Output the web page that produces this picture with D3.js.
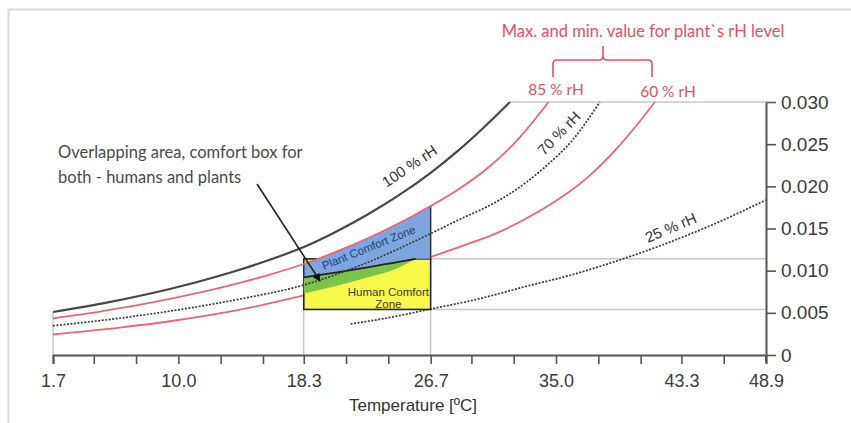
<!DOCTYPE html>
<html>
<head>
<meta charset="utf-8">
<script src="https://cdn.jsdelivr.net/npm/d3@7"></script>
<style>
  html, body { margin: 0; padding: 0; background: #fff; }
  svg { display: block; }
</style>
</head>
<body>
<svg id="chart" width="851" height="423"></svg>
<script>
// ---------------- DATA ----------------
const tempTicks = [1.7, 4.4, 7.2, 10.0, 12.8, 15.6, 18.3, 21.1, 23.9, 26.7, 29.4, 32.2, 35.0, 37.8, 40.6, 43.3, 46.1, 48.9];
const tempLabels = ["1.7", "10.0", "18.3", "26.7", "35.0", "43.3", "48.9"];
const humidityTicks = [0, 0.005, 0.010, 0.015, 0.020, 0.025, 0.030];
const humidityLabels = ["0", "0.005", "0.010", "0.015", "0.020", "0.025", "0.030"];

// rH curves: temperature [°C] and humidity ratio [kg/kg]
const t100 = [1.7, 5, 8, 11, 14, 16, 18.3, 20.5, 22.5, 24.5, 26.7, 28.5, 30.2, 31.95];
const w100 = [0.0051, 0.00612, 0.00723, 0.00854, 0.01008, 0.01126, 0.0128, 0.01468, 0.01663, 0.01883, 0.0216, 0.0242, 0.02695, 0.0300];

const t85 = [1.7, 5, 8, 11, 14, 16, 18.3, 20.5, 22.5, 24.5, 26.7, 28.5, 30.5, 32.5, 34.5];
const w85 = [0.00435, 0.00521, 0.00614, 0.00724, 0.00853, 0.00951, 0.01079, 0.01228, 0.01381, 0.01553, 0.01767, 0.0196, 0.0222, 0.0256, 0.0300];

const t70 = [1.7, 6, 10, 14, 18.3, 22.5, 26.7, 29, 30, 31.75, 34.4, 36.1, 37.9];
const w70 = [0.00347, 0.00434, 0.00536, 0.00661, 0.0083, 0.01096, 0.0144, 0.0164, 0.0172, 0.0189, 0.0225, 0.0255, 0.0300];

const t60 = [1.7, 6, 10, 14, 18.3, 22.5, 26.7, 29, 31, 33, 35, 37, 39, 40.5, 41.55];
const w60 = [0.00245, 0.00322, 0.00415, 0.00535, 0.00706, 0.00906, 0.01162, 0.01306, 0.0144, 0.01616, 0.01828, 0.02092, 0.02444, 0.0276, 0.0300];

const t25 = [21.4, 24, 26.7, 30, 33, 36, 39.4, 42, 45, 48.9];
const w25 = [0.00368, 0.00445, 0.00545, 0.0067, 0.00813, 0.00949, 0.01138, 0.01302, 0.01517, 0.01838];

// comfort zones
const comfortTemps = [18.3, 26.7];
const humanRange = [0.0054, 0.0114];
const plantT = [18.3, 20.5, 22.5, 24.5, 25.7, 26.7];
const plantTop = [0.01079, 0.01228, 0.01381, 0.01553, 0.01666, 0.01767];
const plantBottom = [0.0092, 0.0098, 0.0104, 0.0110, 0.0114, 0.0114];
const overlapT = [18.3, 20.5, 22.5, 24.5, 25.7];
const overlapTop = [0.0092, 0.0098, 0.0104, 0.0110, 0.0114];
const overlapBottom = [0.0073, 0.0082, 0.0092, 0.0103, 0.0114];

// ---------------- CHART ----------------
const svg = d3.select("#chart");
const x = d3.scaleLinear().domain([1.7, 48.9]).range([53, 766]);
const y = d3.scaleLinear().domain([0, 0.030]).range([355, 102]);

const RED = "#ea6573";
const RED_TEXT = "#e4505e";
const GRID = "#c9c9c9";
const AX = "#555";

// frame
svg.append("path").attr("d", "M8.5,423V9.5H851").attr("fill", "none")
  .attr("stroke", "#dadada").attr("stroke-width", 2);

const pts = (ts, ws) => ts.map((t, i) => [t, ws[i]]);
const line = d3.line().x(d => x(d[0])).y(d => y(d[1])).curve(d3.curveMonotoneX);

// guide lines
const g = svg.append("g").attr("stroke", GRID).attr("stroke-width", 1.5);
g.append("line").attr("x1", x(1.7)).attr("x2", x(1.7)).attr("y1", y(0)).attr("y2", y(w100[0]));
comfortTemps.forEach(t => g.append("line").attr("x1", x(t)).attr("x2", x(t)).attr("y1", y(0)).attr("y2", y(humanRange[0])));
humanRange.forEach(w => g.append("line").attr("x1", x(26.7)).attr("x2", x(48.9)).attr("y1", y(w)).attr("y2", y(w)));
g.append("line").attr("x1", x(t100[t100.length - 1])).attr("x2", x(48.9)).attr("y1", y(0.030)).attr("y2", y(0.030));

// curves under fills
svg.append("path").attr("d", line(pts(t60, w60))).attr("fill", "none").attr("stroke", RED).attr("stroke-width", 1.8);
svg.append("path").attr("d", line(pts(t25, w25))).attr("fill", "none").attr("stroke", "#3a3a3a").attr("stroke-width", 1.7).attr("stroke-dasharray", "2,1.5");
svg.append("path").attr("d", line(pts(t100, w100))).attr("fill", "none").attr("stroke", "#474747").attr("stroke-width", 2.2);

// human comfort zone (yellow)
svg.append("rect")
  .attr("x", x(comfortTemps[0])).attr("y", y(humanRange[1]))
  .attr("width", x(comfortTemps[1]) - x(comfortTemps[0]))
  .attr("height", y(humanRange[0]) - y(humanRange[1]))
  .attr("fill", "#f8f84a").attr("stroke", "#222").attr("stroke-width", 1.6);

// overlap (green)
const area = d3.area().x(d => x(d.t)).y0(d => y(d.lo)).y1(d => y(d.hi)).curve(d3.curveMonotoneX);
svg.append("path")
  .attr("d", area(overlapT.map((t, i) => ({ t, lo: overlapBottom[i], hi: overlapTop[i] }))))
  .attr("fill", "#7cc447");

// plant comfort zone (blue)
svg.append("path")
  .attr("d", area(plantT.map((t, i) => ({ t, lo: plantBottom[i], hi: plantTop[i] }))))
  .attr("fill", "#7ea5de");
svg.append("path").attr("d", line(pts(overlapT, overlapTop))).attr("fill", "none").attr("stroke", "#222").attr("stroke-width", 1.8);
svg.append("line").attr("x1", x(18.3)).attr("x2", x(18.3)).attr("y1", y(plantBottom[0])).attr("y2", y(plantTop[0])).attr("stroke", "#333").attr("stroke-width", 1.5);
svg.append("line").attr("x1", x(26.7)).attr("x2", x(26.7)).attr("y1", y(humanRange[1])).attr("y2", y(plantTop[plantTop.length - 1])).attr("stroke", "#333").attr("stroke-width", 1.5);

// curves over fills
svg.append("path").attr("d", line(pts(t85, w85))).attr("fill", "none").attr("stroke", RED).attr("stroke-width", 1.8);
svg.append("path").attr("d", line(pts(t70, w70))).attr("fill", "none").attr("stroke", "#3a3a3a").attr("stroke-width", 1.7).attr("stroke-dasharray", "2,1.5");

// axes
const xAxis = d3.axisBottom(x).tickValues(tempTicks).tickSize(9).tickPadding(10)
  .tickFormat(d => { const s = d.toFixed(1); return tempLabels.includes(s) ? s : ""; });
const gx = svg.append("g").attr("transform", `translate(0,${y(0)})`).call(xAxis);
gx.select(".domain").attr("stroke", AX).attr("stroke-width", 2);
gx.selectAll(".tick line").attr("stroke", AX).attr("stroke-width", 1.6);
gx.selectAll(".tick text").attr("fill", "#3a3a3a").style("font", "18px 'Liberation Sans', Arial, sans-serif");

const yAxis = d3.axisRight(y).tickValues(humidityTicks).tickSize(10).tickSizeOuter(0).tickPadding(5)
  .tickFormat((d, i) => humidityLabels[i]);
const gy = svg.append("g").attr("transform", `translate(${x(48.9)},0)`).call(yAxis);
gy.select(".domain").attr("stroke", AX).attr("stroke-width", 2);
gy.selectAll(".tick line").attr("stroke", AX).attr("stroke-width", 1.6);
gy.selectAll(".tick text").attr("fill", "#3a3a3a").style("font", "19px 'Liberation Sans', Arial, sans-serif");
svg.append("line").attr("x1", x(48.9)).attr("x2", x(48.9)).attr("y1", y(0)).attr("y2", y(0) + 7).attr("stroke", AX).attr("stroke-width", 2);

svg.append("text").attr("x", 413).attr("y", 411).attr("text-anchor", "middle")
  .attr("fill", "#333").style("font", "17px 'Liberation Sans', Arial, sans-serif").text("Temperature [ºC]");

// curve labels
const curveLabel = (t, w, ang, txt) => svg.append("text")
  .attr("transform", `translate(${x(t)},${y(w)}) rotate(${ang})`)
  .attr("text-anchor", "middle").attr("dy", "0.35em")
  .attr("fill", "#333").style("font", "15px 'Liberation Sans', Arial, sans-serif").text(txt);
curveLabel(25.3, 0.0224, -34, "100 % rH");
curveLabel(35.2, 0.0263, -46, "70 % rH");
curveLabel(42.6, 0.0151, -23, "25 % rH");

// zone labels
svg.append("text").attr("transform", `translate(${x(22.6)},${y(0.01275)}) rotate(-22)`)
  .attr("text-anchor", "middle").attr("dy", "0.35em").attr("fill", "#23407a")
  .style("font", "11.5px 'Liberation Sans', Arial, sans-serif").text("Plant Comfort Zone");
svg.append("text").attr("x", x(23.9)).attr("y", y(0.00747)).attr("dy", "0.35em").attr("text-anchor", "middle")
  .attr("fill", "#3b3b20").style("font", "11.5px 'Liberation Sans', Arial, sans-serif").text("Human Comfort");
svg.append("text").attr("x", x(23.9)).attr("y", y(0.00605)).attr("dy", "0.35em").attr("text-anchor", "middle")
  .attr("fill", "#3b3b20").style("font", "11.5px 'Liberation Sans', Arial, sans-serif").text("Zone");

// annotation (left)
const ann = svg.append("text").attr("fill", "#4a4a4a").style("font", "16.5px Lato, 'Open Sans', sans-serif");
ann.append("tspan").attr("x", 58).attr("y", 158).text("Overlapping area, comfort box for");
ann.append("tspan").attr("x", 58).attr("y", 183).text("both - humans and plants");
svg.append("defs").append("marker").attr("id", "ah").attr("viewBox", "0 0 10 10")
  .attr("refX", 9).attr("refY", 5).attr("markerWidth", 5).attr("markerHeight", 5).attr("orient", "auto")
  .append("path").attr("d", "M0,0L10,5L0,10z").attr("fill", "#111");
svg.append("line").attr("x1", 257).attr("y1", 184).attr("x2", 320).attr("y2", 281)
  .attr("stroke", "#222").attr("stroke-width", 1.6).attr("marker-end", "url(#ah)");

// annotation (top, red)
svg.append("text").attr("x", 643).attr("y", 37).attr("text-anchor", "middle").attr("fill", RED_TEXT)
  .style("font", "16.5px Lato, 'Open Sans', sans-serif").text("Max. and min. value for plant`s rH level");
svg.append("path").attr("d", "M553,77V64Q553,60 557,60H599Q603,60 603,56V46M603,56Q603,60 607,60H648Q652,60 652,64V77")
  .attr("fill", "none").attr("stroke", RED_TEXT).attr("stroke-width", 1.6);
svg.append("text").attr("x", 556).attr("y", 95).attr("text-anchor", "middle").attr("fill", RED_TEXT)
  .style("font", "15.5px Lato, 'Open Sans', sans-serif").text("85 % rH");
svg.append("text").attr("x", 668).attr("y", 97).attr("text-anchor", "middle").attr("fill", RED_TEXT)
  .style("font", "15.5px Lato, 'Open Sans', sans-serif").text("60 % rH");
</script>
</body>
</html>
